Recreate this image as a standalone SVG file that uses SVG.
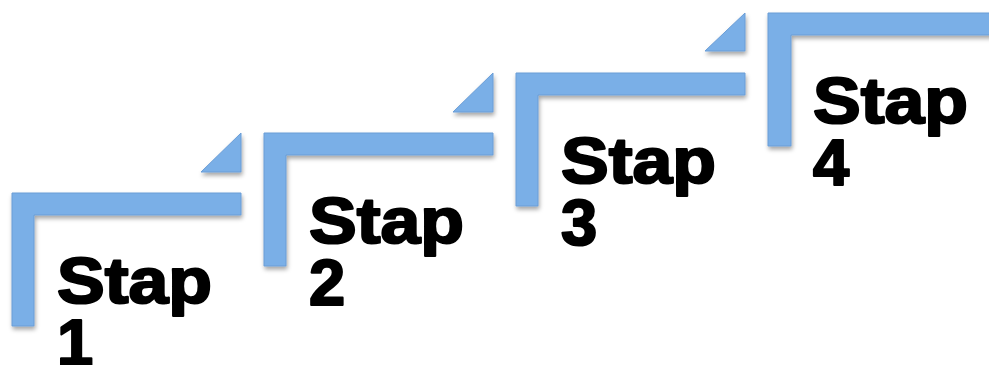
<svg xmlns="http://www.w3.org/2000/svg" width="989" height="365" viewBox="0 0 989 365">
<style>
.shape{fill:#7aafe7;stroke:#6a9dd6;stroke-width:1;filter:url(#sh)}
.lbl{font-family:"Liberation Sans",Arial,sans-serif;font-weight:bold;font-size:65px;fill:#000;stroke:#000;stroke-width:2.2;stroke-linejoin:round}
</style>
<defs>
<filter id="sh" x="-10%" y="-10%" width="130%" height="130%">
<feDropShadow dx="1" dy="3" stdDeviation="2" flood-color="#000" flood-opacity="0.35"/>
</filter>
</defs>
<g id="step1">
<path class="shape" d="M12,193 H241 V215 H34 V326 H12 Z"/>
<path class="shape" d="M241,133 V172 H201 Z"/>
<text class="lbl" x="57" y="303" textLength="155" lengthAdjust="spacingAndGlyphs">Stap</text>
<text class="lbl" x="57" y="365">1</text>
</g>
<g id="step2">
<path class="shape" d="M264,133 H493 V155 H286 V266 H264 Z"/>
<path class="shape" d="M493,73 V112 H453 Z"/>
<text class="lbl" x="309" y="243" textLength="155" lengthAdjust="spacingAndGlyphs">Stap</text>
<text class="lbl" x="309" y="305">2</text>
</g>
<g id="step3">
<path class="shape" d="M516,73 H745 V95 H538 V206 H516 Z"/>
<path class="shape" d="M745,13 V51 H705 Z"/>
<text class="lbl" x="561" y="183" textLength="155" lengthAdjust="spacingAndGlyphs">Stap</text>
<text class="lbl" x="561" y="245">3</text>
</g>
<g id="step4">
<path class="shape" d="M768,13 H995 V35 H791 V146 H768 Z"/>
<text class="lbl" x="813" y="123" textLength="155" lengthAdjust="spacingAndGlyphs">Stap</text>
<text class="lbl" x="813" y="185">4</text>
</g>
<g id="connectors"></g>
</svg>
